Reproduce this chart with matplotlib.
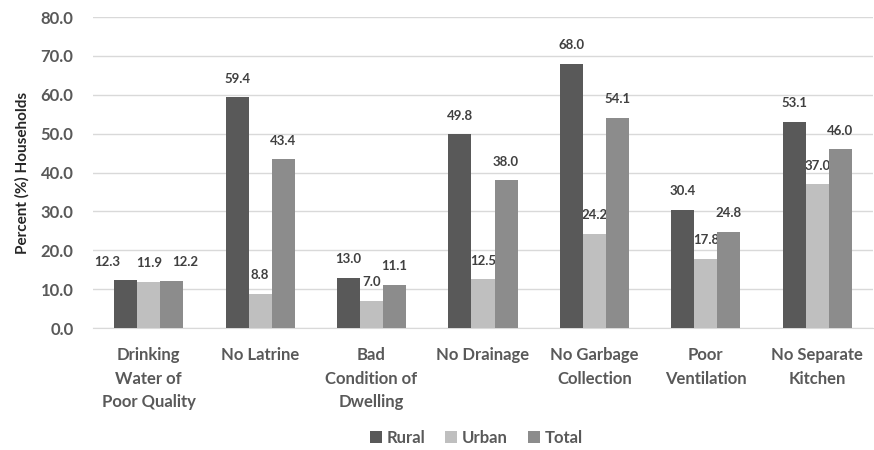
import numpy as np
import matplotlib
matplotlib.use("Agg")
import matplotlib.pyplot as plt

categories = ["Drinking\nWater of\nPoor Quality", "No Latrine", "Bad\nCondition of\nDwelling",
              "No Drainage", "No Garbage\nCollection", "Poor\nVentilation", "No Separate\nKitchen"]
rural = [12.3, 59.4, 13.0, 49.8, 68.0, 30.4, 53.1]
urban = [11.9, 8.8, 7.0, 12.5, 24.2, 17.8, 37.0]
total = [12.2, 43.4, 11.1, 38.0, 54.1, 24.8, 46.0]
series = [("Rural", rural, "#595959"), ("Urban", urban, "#bfbfbf"), ("Total", total, "#8c8c8c")]

plt.rcParams['font.family'] = ['Lato', 'DejaVu Sans']
txt = "#595959"

fig = plt.figure(figsize=(8.74, 4.5), dpi=100)
ax = fig.add_axes([0.1064, 0.271, 0.8924, 0.691])

x = np.arange(len(categories))
w = 0.207
# the first group's labels are pushed sideways so they don't collide
nudge = {(0, 0): -13, (2, 0): 10}
for i, (name, vals, col) in enumerate(series):
    pos = x + (i - 1) * w
    ax.bar(pos, vals, w, color=col, label=name, zorder=3)
    for j, (p, v) in enumerate(zip(pos, vals)):
        ax.annotate(f"{v:.1f}", (p, v), xytext=(nudge.get((i, j), 0), 9),
                    textcoords="offset points", ha="center", va="bottom", fontsize=9.5,
                    fontweight="bold", color="#404040", zorder=2)

ax.set_xlim(-0.5, len(categories) - 0.5)
ax.set_ylim(0, 80)
ax.set_yticks(np.arange(0, 81, 10))
ax.set_yticklabels([f"{t:.1f}" for t in np.arange(0, 81, 10)])
ax.set_xticks(x)
ax.set_xticklabels(categories, linespacing=1.55)
ax.yaxis.grid(True, color="#d9d9d9", linewidth=1, zorder=0)
for s in ["top", "right", "left"]:
    ax.spines[s].set_visible(False)
ax.spines["bottom"].set_color("#d9d9d9")
ax.tick_params(axis="both", length=0, labelsize=12, labelcolor=txt)
ax.tick_params(axis="x", pad=14)
ax.tick_params(axis="y", pad=14)
for lab in ax.get_xticklabels() + ax.get_yticklabels():
    lab.set_fontweight("bold")
ax.set_ylabel("Percent (%) Households", fontsize=11, fontweight="bold", color="#262626", labelpad=8)

fig.legend(*ax.get_legend_handles_labels(), loc="center", bbox_to_anchor=(0.545, 0.027), ncol=3,
           frameon=False, handlelength=0.7, handleheight=0.7, columnspacing=1.2,
           handletextpad=0.3, labelcolor=txt, prop={"weight": "bold", "size": 12})

fig.savefig("out.png", dpi=100)
